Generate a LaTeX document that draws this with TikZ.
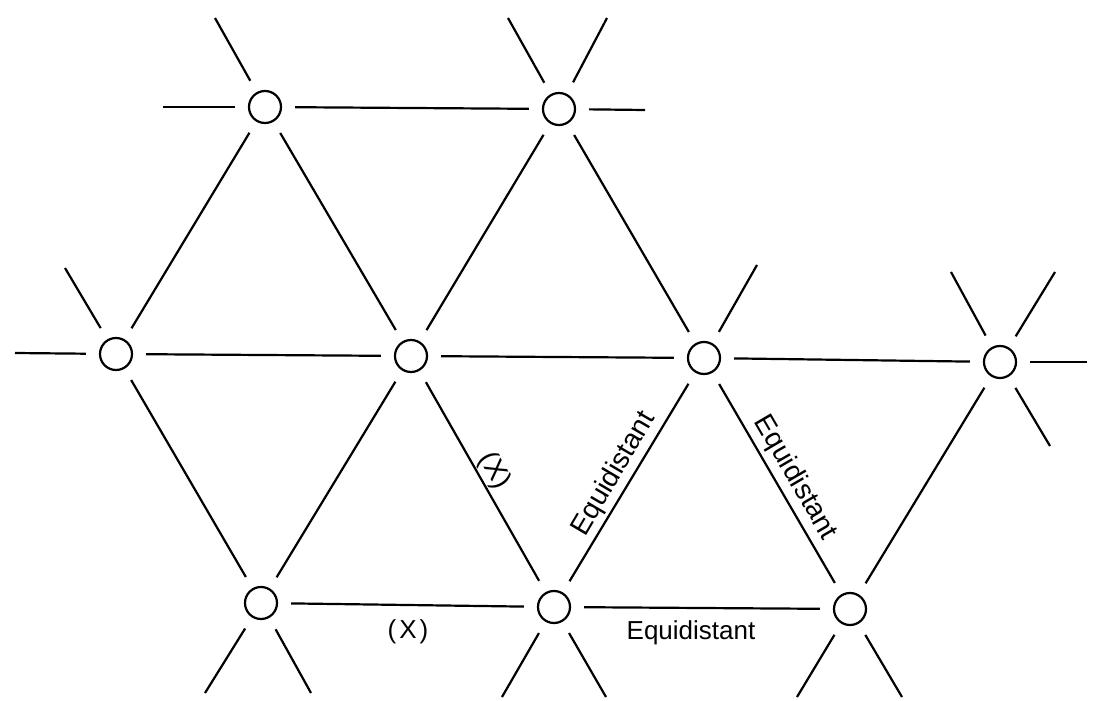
\documentclass[tikz,border=0pt]{standalone}
\usepackage{fontspec}
\setmainfont{Liberation Sans}
\begin{document}
\begin{tikzpicture}[x=1pt,y=-1pt,line width=2.2pt,
  site/.style={circle,draw,minimum size=32pt,inner sep=0pt},
  link/.style={shorten <=13pt,shorten >=13pt},
  stub/.style={shorten <=13pt},
  lbl/.style={font=\fontsize{26}{30}\selectfont,inner sep=0pt},
  slbl/.style={font=\fontsize{28}{32}\selectfont,inner sep=0pt}]
\useasboundingbox (0,0) rectangle (1101,701);
% sites
\node[site] (A) at (265,107) {};
\node[site] (B) at (559,109) {};
\node[site] (C) at (116,354) {};
\node[site] (D) at (411,356) {};
\node[site] (E) at (704,358) {};
\node[site] (F) at (1000,362) {};
\node[site] (G) at (261,603) {};
\node[site] (H) at (554,607) {};
\node[site] (I) at (850,609) {};
% stub ends
\coordinate (Al)  at (163,107);
\coordinate (Aul) at (215,18);
\coordinate (Bul) at (508,18);
\coordinate (Bur) at (607,18);
\coordinate (Br)  at (645,110);
\coordinate (Cl)  at (15,353);
\coordinate (Cul) at (65,268);
\coordinate (Eur) at (757,265);
\coordinate (Ful) at (951,272);
\coordinate (Fur) at (1055,272);
\coordinate (Fr)  at (1087,362);
\coordinate (Fdr) at (1050,446);
\coordinate (Gdl) at (205,693);
\coordinate (Gdr) at (311,693);
\coordinate (Hdl) at (502,697);
\coordinate (Hdr) at (606,697);
\coordinate (Idl) at (797,697);
\coordinate (Idr) at (902,697);
% links
\draw[link] (A) -- (B);
\draw[link] (A) -- (C);
\draw[link] (A) -- (D);
\draw[link] (B) -- (D);
\draw[link] (B) -- (E);
\draw[link] (C) -- (D);
\draw[link] (D) -- (E);
\draw[link] (E) -- (F);
\draw[link] (C) -- (G);
\draw[link] (D) -- (G);
\draw[link] (D) -- (H);
\draw[link] (E) -- (H);
\draw[link] (E) -- (I);
\draw[link] (F) -- (I);
\draw[link] (G) -- (H);
\draw[link] (H) -- (I);
% stubs
\foreach \n/\e in {A/Al,A/Aul,B/Bul,B/Bur,B/Br,C/Cl,C/Cul,E/Eur,F/Ful,F/Fur,F/Fr,F/Fdr,G/Gdl,G/Gdr,H/Hdl,H/Hdr,I/Idl,I/Idr}
  \draw[stub] (\n) -- (\e);
% labels
\node[lbl] (x1) at (408,632) {(\kern3pt X\kern3pt)};
\node[lbl] (eq1) at (691,633) {Equidistant};
\node[slbl,rotate=-60] (x2) at (494,471) {(X)};
\node[slbl,rotate=59.5] (eq2) at (614,474) {Equidistant};
\node[slbl,rotate=-59.8] (eq3) at (795,478) {Equidistant};
\end{tikzpicture}
\end{document}
